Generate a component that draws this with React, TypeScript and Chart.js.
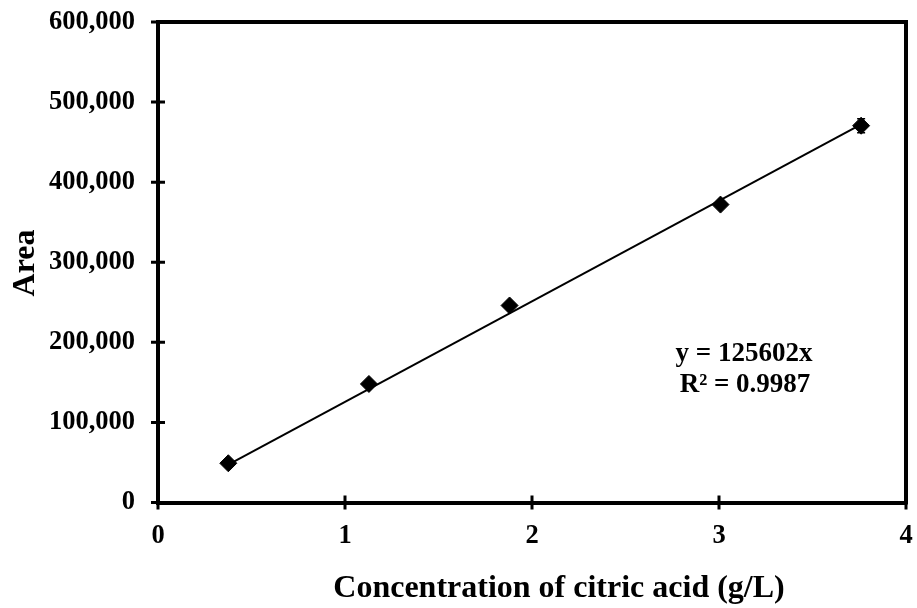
import { useEffect, useRef } from "react";
import { Chart, registerables } from "chart.js";

Chart.register(...registerables);

// Calibration data: citric acid standards vs. peak area
const concentrations = [0.376, 1.128, 1.88, 3.008, 3.76];
const areas = [49000, 148000, 246000, 372000, 470500];
const areaErrors = [3000, 3000, 3000, 3000, 8800];

// Linear fit through the origin
const slope = 125602;
const rSquared = "0.9987";
const equationLines = [`y = ${slope}x`, `R² = ${rSquared}`];

const xTickValues = [0, 1, 2, 3, 4];
const yTickValues = [0, 100000, 200000, 300000, 400000, 500000, 600000];

const xTitle = "Concentration of citric acid (g/L)";
const yTitle = "Area";

const SERIF = "'Liberation Serif', 'Times New Roman', serif";

const framePlugin = {
  id: "frameAndAnnotations",
  afterDatasetsDraw(chart: any) {
    const { ctx, scales } = chart;
    const xs = scales.x;
    const ys = scales.y;
    ctx.save();
    // error bars
    ctx.strokeStyle = "#000";
    ctx.lineWidth = 1.5;
    concentrations.forEach((c, i) => {
      const px = xs.getPixelForValue(c);
      const top = ys.getPixelForValue(areas[i] + areaErrors[i]);
      const bot = ys.getPixelForValue(areas[i] - areaErrors[i]);
      ctx.beginPath();
      ctx.moveTo(px, top);
      ctx.lineTo(px, bot);
      ctx.moveTo(px - 4, top);
      ctx.lineTo(px + 4, top);
      ctx.moveTo(px - 4, bot);
      ctx.lineTo(px + 4, bot);
      ctx.stroke();
    });
    ctx.restore();
  },
  afterDraw(chart: any) {
    const { ctx, chartArea, scales } = chart;
    const xs = scales.x;
    const ys = scales.y;
    ctx.save();
    ctx.strokeStyle = "#000";
    // top and right frame
    ctx.lineWidth = 4;
    ctx.beginPath();
    ctx.moveTo(chartArea.left - 2, chartArea.top);
    ctx.lineTo(chartArea.right, chartArea.top);
    ctx.lineTo(chartArea.right, chartArea.bottom + 2);
    ctx.stroke();

    // tick marks crossing the axes
    ctx.lineWidth = 3;
    ctx.beginPath();
    yTickValues.forEach((v) => {
      const py = ys.getPixelForValue(v);
      ctx.moveTo(chartArea.left - 7, py);
      ctx.lineTo(chartArea.left + 7, py);
    });
    xTickValues.forEach((v) => {
      const px = xs.getPixelForValue(v);
      ctx.moveTo(px, chartArea.bottom - 7);
      ctx.lineTo(px, chartArea.bottom + 7);
    });
    ctx.stroke();

    ctx.fillStyle = "#000";
    // trendline equation
    ctx.font = `bold 27px ${SERIF}`;
    ctx.textAlign = "center";
    ctx.textBaseline = "alphabetic";
    ctx.fillText(equationLines[0], 744, 361);
    ctx.fillText(equationLines[1], 745, 392);

    // axis titles
    ctx.font = `bold 32px ${SERIF}`;
    ctx.fillText(xTitle, 559, 597);
    ctx.save();
    ctx.translate(34, 263);
    ctx.rotate(-Math.PI / 2);
    ctx.fillText(yTitle, 0, 0);
    ctx.restore();
    ctx.restore();
  },
};

export default function App() {
  const ref = useRef<HTMLCanvasElement | null>(null);

  useEffect(() => {
    if (!ref.current) return;
    const tickFont = { family: SERIF, size: 26.5, weight: "bold" as const };
    const chart = new Chart(ref.current, {
      type: "scatter",
      data: {
        datasets: [
          {
            label: "Standards",
            data: concentrations.map((c, i) => ({ x: c, y: areas[i] })),
            pointStyle: "rectRot",
            pointRadius: 8.5,
            pointBackgroundColor: "#000",
            pointBorderColor: "#000",
            pointBorderWidth: 1,
            showLine: false,
            order: 1,
          },
          {
            label: "Fit",
            data: [concentrations[0], concentrations[concentrations.length - 1]].map((c) => ({
              x: c,
              y: slope * c,
            })),
            showLine: true,
            borderColor: "#000",
            borderWidth: 2,
            pointRadius: 0,
            order: 2,
          },
        ],
      },
      options: {
        responsive: false,
        animation: false,
        layout: { padding: { top: 22, right: 11, left: 0, bottom: 0 } },
        plugins: {
          legend: { display: false },
          tooltip: { enabled: false },
        },
        scales: {
          x: {
            type: "linear",
            min: 0,
            max: 4,
            afterFit: (s: any) => {
              s.height = 105.5;
              s.paddingLeft = 0;
              s.paddingRight = 0;
            },
            afterBuildTicks: (s: any) => {
              s.ticks = xTickValues.map((v) => ({ value: v }));
            },
            grid: { display: false, drawTicks: false },
            border: { display: true, color: "#000", width: 4 },
            ticks: {
              color: "#000",
              font: tickFont,
              padding: 18,
              maxRotation: 0,
            },
          },
          y: {
            type: "linear",
            min: 0,
            max: 600000,
            afterFit: (s: any) => {
              s.width = 158;
              s.paddingTop = 0;
              s.paddingBottom = 0;
            },
            afterBuildTicks: (s: any) => {
              s.ticks = yTickValues.map((v) => ({ value: v }));
            },
            grid: { display: false, drawTicks: false },
            border: { display: true, color: "#000", width: 4 },
            ticks: {
              color: "#000",
              font: tickFont,
              padding: 23,
              callback: (v: any) => Number(v).toLocaleString("en-US"),
            },
          },
        },
      },
      plugins: [framePlugin],
    });
    return () => chart.destroy();
  }, []);

  return (
    <div style={{ position: "absolute", left: 0, top: 0, width: 917, height: 608, background: "#fff" }}>
      <canvas ref={ref} width={917} height={608} />
    </div>
  );
}
